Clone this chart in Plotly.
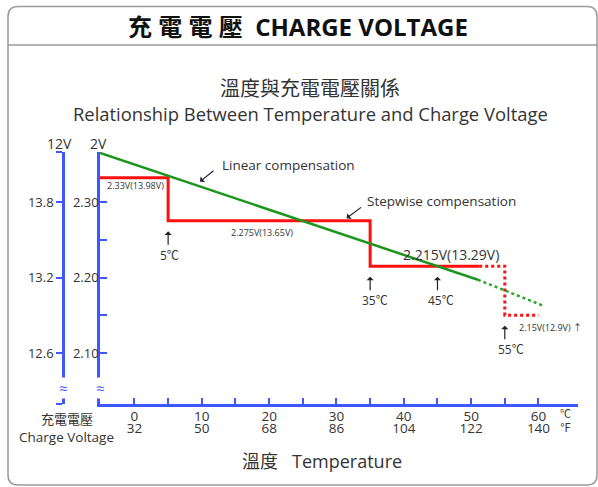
import plotly.graph_objects as go

W, H = 598, 487

# ---------------- data ----------------
temp_c_ticks = [0, 5, 10, 15, 20, 25, 30, 35, 40, 45, 50, 55, 60]
temp_c_labels = ["0", "", "10", "", "20", "", "30", "", "40", "", "50", "", "60"]
temp_f_ticks = [0, 10, 20, 30, 40, 50, 60]
temp_f_labels = ["32", "50", "68", "86", "104", "122", "140"]
volt_2v_ticks = [2.10, 2.15, 2.20, 2.25, 2.30]
volt_2v_labels = ["2.10", "", "2.20", "", "2.30"]
volt_12v_ticks = [12.6, 13.2, 13.8]
volt_12v_labels = ["12.6", "13.2", "13.8"]

# stepwise compensation (red)
step_solid_t = [-5.12, 5, 5, 35, 35, 51.2]
step_solid_v = [2.332, 2.332, 2.275, 2.275, 2.215, 2.215]
step_dot_t = [51.2, 55, 55, 60]
step_dot_v = [2.215, 2.215, 2.15, 2.15]
# linear compensation (green)
lin_solid_t = [-5.12, 51.0]
lin_solid_v = [2.365, 2.197]
lin_dot_t = [51.0, 60.6]
lin_dot_v = [2.197, 2.163]

# step points with labels
step_marks_t = [5, 35, 45, 55]
step_marks_v = [2.275, 2.215, 2.215, 2.15]
step_marks_txt = ["5℃", "35℃", "45℃", "55℃"]

# ---------------- styling ----------------
BLUE = "#3f57ff"
RED = "#ff1010"
GREEN = "#1c961c"
GREEN_DOT = "#2aa52a"
TXT = "#333333"
FONT = "Open Sans, Noto Sans CJK TC, sans-serif"

X0, X1 = -5.12, 65.87
Y0, Y1 = 2.0325, 2.3662


def px(x):
    return x / W


def py(y):
    return 1 - y / H


xdom = [px(100), px(578)]
ydom = [py(404), py(152)]

fig = go.Figure()
fig.add_trace(go.Scatter(x=step_solid_t, y=step_solid_v, mode="lines",
                         line=dict(color=RED, width=3), hoverinfo="skip"))
fig.add_trace(go.Scatter(x=step_dot_t, y=step_dot_v, mode="lines",
                         line=dict(color=RED, width=3, dash="dot"), hoverinfo="skip"))
fig.add_trace(go.Scatter(x=lin_solid_t, y=lin_solid_v, mode="lines",
                         line=dict(color=GREEN, width=2.5), hoverinfo="skip"))
fig.add_trace(go.Scatter(x=lin_dot_t, y=lin_dot_v, mode="lines",
                         line=dict(color=GREEN_DOT, width=2.5, dash="dot"), hoverinfo="skip"))
# invisible trace so that the °F axis and the 12V axis are drawn
fig.add_trace(go.Scatter(x=temp_f_ticks, y=[v * 6 for v in [2.2] * len(temp_f_ticks)],
                         xaxis="x2", yaxis="y2", mode="markers",
                         marker=dict(opacity=0), hoverinfo="skip"))

annotations = []


def txt(x, y, text, size, xanchor="center", color=TXT, **kw):
    annotations.append(dict(xref="paper", yref="paper", x=px(x), y=py(y), text=text,
                            showarrow=False, xanchor=xanchor, yanchor="middle",
                            font=dict(family=FONT, size=size, color=color), **kw))


# titles
txt(298, 27, "<b>充 電 電 壓  CHARGE VOLTAGE</b>", 24, color="#111111")
txt(310, 88, "溫度與充電電壓關係", 20)
txt(310, 113, "Relationship Between Temperature and Charge Voltage", 18.4)
txt(321.5, 460.5, "溫度   Temperature", 18)
txt(66.7, 419, "充電電壓", 13)
txt(66.7, 436.5, "Charge Voltage", 13.5)
txt(565, 420, "℃<br>℉", 11)
txt(59, 144, "12V", 14)
txt(98.7, 144, "2V", 14)
txt(220, 165, "Linear compensation", 13.5, xanchor="left")
txt(365, 201.5, "Stepwise compensation", 13.5, xanchor="left")

# axis break marks
for bx in (63, 100):
    txt(bx, 388, "≈", 15, color=BLUE, bgcolor="white", borderpad=0)

# pointer arrows to lines
annotations.append(dict(x=9.73, y=2.327, xref="x", yref="y", text="", showarrow=True,
                        ax=15, ay=-12, arrowhead=1, arrowsize=1, arrowwidth=1.2,
                        arrowcolor="#222222"))
annotations.append(dict(x=31.5, y=2.2785, xref="x", yref="y", text="", showarrow=True,
                        ax=16, ay=-12, arrowhead=1, arrowsize=1, arrowwidth=1.2,
                        arrowcolor="#222222"))

# step temperature markers
label_shift = [1, 5, 4, 6]
for t, v, s, xs in zip(step_marks_t, step_marks_v, step_marks_txt, label_shift):
    annotations.append(dict(x=t, y=v, xref="x", yref="y", text="", showarrow=True,
                            ax=0, ay=15, yshift=-10.5, arrowhead=1, arrowsize=1,
                            arrowwidth=1.2, arrowcolor="#222222"))
    annotations.append(dict(x=t, y=v, xref="x", yref="y", text=s, showarrow=False,
                            xshift=xs, yshift=-34.5, xanchor="center", yanchor="middle",
                            font=dict(family=FONT, size=12, color=TXT)))

# voltage labels on the steps
annotations.append(dict(x=step_solid_t[0], y=step_solid_v[0], xref="x", yref="y",
                        text="2.33V(13.98V)", showarrow=False, xanchor="left",
                        yanchor="middle", xshift=5, yshift=-8,
                        font=dict(family=FONT, size=9, color=TXT)))
annotations.append(dict(x=(5 + 35) / 2, y=2.275, xref="x", yref="y",
                        text="2.275V(13.65V)", showarrow=False, xanchor="center",
                        yanchor="middle", xshift=-7.5, yshift=-11.5,
                        font=dict(family=FONT, size=9, color=TXT)))
annotations.append(dict(x=47, y=2.215, xref="x", yref="y",
                        text="2.215V(13.29V)", showarrow=False, xanchor="center",
                        yanchor="middle", yshift=12,
                        font=dict(family=FONT, size=14, color=TXT)))
annotations.append(dict(x=55, y=2.15, xref="x", yref="y",
                        text="2.15V(12.9V) ↑", showarrow=False, xanchor="left",
                        yanchor="middle", xshift=12, yshift=-12.5,
                        font=dict(family=FONT, size=9, color=TXT)))

# frame
L, R, T, B, r = 8, 597, 6.5, 485, 10


def P(x, y):
    return f"{px(x):.5f},{py(y):.5f}"


frame_path = (f"M {P(L + r, T)} L {P(R - r, T)} Q {P(R, T)} {P(R, T + r)} "
              f"L {P(R, B - r)} Q {P(R, B)} {P(R - r, B)} L {P(L + r, B)} "
              f"Q {P(L, B)} {P(L, B - r)} L {P(L, T + r)} Q {P(L, T)} {P(L + r, T)} Z")
shapes = [
    dict(type="path", xref="paper", yref="paper", path=frame_path,
         line=dict(color="#9a9a9a", width=1.5)),
    dict(type="line", xref="paper", yref="paper", x0=px(L), x1=px(R), y0=py(45), y1=py(45),
         line=dict(color="#9a9a9a", width=1.5)),
]

axis_common = dict(showgrid=False, zeroline=False, fixedrange=True)

fig.update_layout(
    width=W, height=H,
    margin=dict(l=0, r=0, t=0, b=0),
    paper_bgcolor="white", plot_bgcolor="white",
    showlegend=False,
    font=dict(family=FONT, color=TXT),
    xaxis=dict(domain=xdom, range=[X0, X1], anchor="y",
               showline=True, linecolor=BLUE, linewidth=2.5,
               ticks="inside", ticklen=6, tickwidth=2, tickcolor=BLUE,
               tickmode="array", tickvals=temp_c_ticks, ticktext=temp_c_labels,
               ticklabelstandoff=-2,
               tickfont=dict(size=13.5, color=TXT), **axis_common),
    xaxis2=dict(domain=xdom, range=[X0, X1], overlaying="x", anchor="free",
                position=py(418), showline=False, ticks="",
                tickmode="array", tickvals=temp_f_ticks, ticktext=temp_f_labels,
                tickfont=dict(size=13.5, color=TXT), **axis_common),
    yaxis=dict(domain=ydom, range=[Y0, Y1], anchor="x",
               showline=True, linecolor=BLUE, linewidth=2.5,
               ticks="inside", ticklen=7, tickwidth=2, tickcolor=BLUE,
               tickmode="array", tickvals=volt_2v_ticks, ticktext=volt_2v_labels,
               ticklabelstandoff=-4,
               tickfont=dict(size=13, color=TXT), **axis_common),
    yaxis2=dict(domain=ydom, range=[Y0 * 6, Y1 * 6], overlaying="y", anchor="free",
                position=px(63), side="left",
                showline=True, linecolor=BLUE, linewidth=2.5,
                ticks="outside", ticklen=6, tickwidth=2, tickcolor=BLUE,
                tickmode="array", tickvals=[Y0 * 6] + volt_12v_ticks + [Y1 * 6],
                ticktext=[""] + volt_12v_labels + [""],
                tickfont=dict(size=13, color=TXT), **axis_common),
    annotations=annotations,
    shapes=shapes,
)

fig.write_html("out.html", config={"displayModeBar": False},
               post_script="document.body.style.margin='0';")
